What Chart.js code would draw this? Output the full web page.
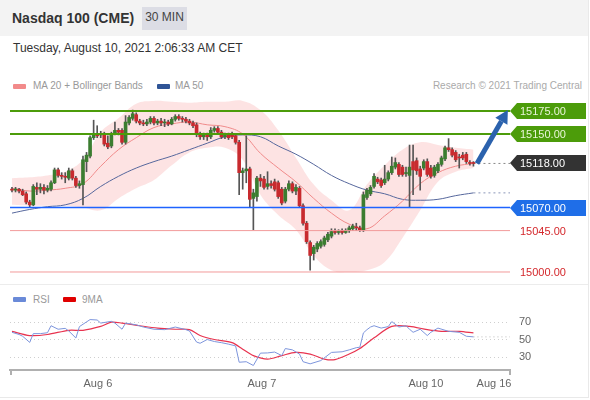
<!DOCTYPE html>
<html>
<head>
<meta charset="utf-8">
<title>Nasdaq 100 (CME)</title>
<script src="https://cdn.jsdelivr.net/npm/chart.js@4.4.1/dist/chart.umd.min.js"></script>
<style>
  html, body { margin: 0; padding: 0; background: #fff; }
  body { width: 590px; height: 400px; position: relative; overflow: hidden; font-family: Arial, "Liberation Sans", sans-serif; }
  .frame { position: absolute; left: 0; top: 0; width: 588px; height: 397px; border-right: 1px solid #e9e9e9; border-bottom: 1px solid #e9e9e9; }
  .head { position: absolute; left: 0; top: 0; width: 588px; height: 36px; background: #f3f3f3; }
  .title { position: absolute; left: 12px; top: 10px; font-size: 14px; line-height: 16px; font-weight: bold; color: #333; }
  .tf { position: absolute; left: 142px; top: 7px; width: 45px; height: 23px; line-height: 21px; background: #dcdde5; color: #444; font-size: 12px; text-align: center; }
  .date { position: absolute; left: 13px; top: 41px; font-size: 12px; line-height: 14px; color: #333; }
  .sep { position: absolute; left: 0; top: 284px; width: 588px; height: 1px; background: #ececec; }
  .leg { position: absolute; font-size: 10px; line-height: 12px; color: #999; white-space: nowrap; }
  .sw { position: absolute; height: 5px; border-radius: 1px; }
  canvas { position: absolute; left: 0; }
</style>
</head>
<body>
<div class="frame"></div>
<div class="head"></div>
<div class="title">Nasdaq 100 (CME)</div>
<div class="tf">30 MIN</div>
<div class="date">Tuesday, August 10, 2021 2:06:33 AM CET</div>

<div class="sw" style="left:13px; top:84px; width:13px; background:#f28a8a;"></div>
<div class="leg" style="left:33px; top:80px;">MA 20 + Bollinger Bands</div>
<div class="sw" style="left:157px; top:84px; width:13px; background:#2f5496;"></div>
<div class="leg" style="left:175px; top:80px;">MA 50</div>
<div class="leg" style="right:8px; top:80px; color:#aaa;">Research © 2021 Trading Central</div>

<div class="sep"></div>

<div class="sw" style="left:13px; top:297px; width:13px; background:#6a8ad8;"></div>
<div class="leg" style="left:33px; top:294px;">RSI</div>
<div class="sw" style="left:63px; top:297px; width:13px; background:#e00000;"></div>
<div class="leg" style="left:82px; top:294px;">9MA</div>

<canvas id="price" width="590" height="185" style="top:95px;"></canvas>
<canvas id="rsi" width="590" height="104" style="top:291px;"></canvas>

<script>
// =============================== data

const opens = [
  15090,15089,15090,15088,15085,15076,15073,15092,15090,15092,
  15089,15090,15097,15111,15105,15104,15102,15110,15102,15094,
  15095,15120,15126,15146,15150,15149,15150,15140,15137,15150,
  15154,15154,15141,15162,15167,15171,15164,15162,15161,15163,
  15167,15162,15164,15162,15163,15161,15166,15169,15167,15166,
  15164,15162,15160,15150,15147,15149,15147,15154,15156,15152,
  15147,15149,15150,15148,15141,15108,15110,15112,15080,15082,
  15102,15101,15093,15096,15098,15097,15090,15077,15090,15096,
  15088,15091,15072,15053,15032,15020,15025,15028,15030,15035,
  15039,15044,15043,15045,15043,15045,15047,15049,15048,15046,
  15081,15085,15093,15101,15100,15097,15101,15108,15114,15117,
  15114,15107,15105,15120,15121,15112,15113,15120,15113,15105,
  15110,15117,15123,15135,15133,15130,15125,15127,15128,15119,
  15119
];
const highs = [
  15092,15092,15091,15090,15087,15078,15095,15097,15096,15095,
  15094,15099,15113,15113,15108,15108,15113,15112,15104,15099,
  15126,15130,15148,15165,15159,15153,15152,15148,15152,15163,
  15156,15156,15170,15170,15176,15173,15166,15165,15166,15169,
  15169,15166,15167,15166,15165,15168,15171,15171,15169,15168,
  15166,15164,15162,15152,15151,15151,15157,15158,15158,15154,
  15151,15151,15152,15150,15143,15113,15148,15114,15090,15104,
  15106,15104,15109,15099,15101,15099,15092,15092,15099,15098,
  15095,15093,15074,15055,15034,15029,15033,15035,15039,15043,
  15047,15047,15046,15047,15047,15050,15052,15053,15050,15087,
  15091,15094,15107,15103,15102,15116,15110,15125,15124,15119,
  15116,15114,15138,15138,15124,15115,15122,15123,15116,15116,
  15119,15126,15137,15145,15135,15132,15128,15130,15130,15121,
  15120
];
const lows = [
  15087,15087,15086,15083,15074,15070,15072,15084,15086,15085,
  15087,15088,15096,15103,15101,15097,15100,15100,15092,15091,
  15073,15109,15124,15144,15146,15146,15137,15134,15135,15149,
  15149,15139,15139,15160,15165,15162,15160,15159,15159,15161,
  15160,15160,15159,15158,15159,15160,15164,15165,15163,15162,
  15160,15157,15147,15144,15144,15143,15145,15152,15150,15145,
  15145,15144,15145,15139,15084,15090,15097,15070,15046,15077,
  15093,15090,15090,15091,15088,15080,15073,15075,15088,15086,
  15084,15070,15051,15031,15002,15013,15022,15026,15028,15033,
  15037,15041,15041,15041,15042,15043,15045,15045,15044,15044,
  15079,15083,15091,15096,15092,15095,15099,15106,15112,15104,
  15104,15104,15070,15084,15106,15089,15111,15104,15102,15103,
  15108,15115,15121,15131,15125,15120,15113,15122,15118,15116,
  15115
];
const closes = [
  15089,15090,15088,15084,15076,15073,15093,15090,15092,15089,
  15091,15097,15111,15105,15104,15103,15110,15102,15094,15096,
  15122,15127,15146,15150,15148,15150,15139,15136,15150,15154,
  15152,15141,15163,15168,15172,15164,15162,15161,15163,15167,
  15162,15164,15162,15163,15161,15166,15169,15167,15166,15164,
  15162,15159,15150,15147,15149,15147,15154,15156,15152,15147,
  15149,15146,15147,15141,15108,15110,15112,15079,15086,15102,
  15099,15092,15096,15094,15090,15082,15075,15090,15096,15088,
  15092,15072,15053,15033,15018,15027,15031,15033,15037,15041,
  15044,15043,15044,15043,15045,15048,15050,15048,15046,15084,
  15089,15092,15104,15098,15094,15101,15108,15115,15119,15106,
  15106,15108,15114,15111,15110,15104,15120,15106,15104,15114,
  15117,15124,15135,15133,15127,15122,15124,15124,15120,15118,
  15118
];

// indicators, read every 5 candles
const bandIdx = [0,5,10,15,20,25,30,35,40,45,50,55,60,65,70,75,80,85,90,95,100,105,110,115,120,125,130];
const bbUpper = [15102,15103,15105,15109,15122,15152,15167,15183,15186,15185,15184,15185,15185,15186,15176,15154,15124,15095,15078,15067,15095,15116,15133,15141,15138,15135,15133];
const bbLower = [15073,15072,15072,15072,15070,15067,15080,15091,15100,15116,15130,15135,15135,15122,15084,15062,15046,15018,15002,15000,15002,15011,15037,15067,15098,15109,15113];
const ma20 = [15091,15088,15089,15091,15096,15115,15133,15146,15157,15161,15163,15160,15158,15150,15129,15113,15098,15080,15064,15052,15047,15061,15077,15096,15108,15115,15118];
const ma50 = [15064,15068,15071,15073,15080,15093,15104,15113,15120,15126,15133,15140,15147,15149,15147,15137,15128,15117,15105,15096,15089,15085,15079,15078,15079,15083,15086];

const levelValues = [15175, 15150, 15070, 15045, 15000];
const tagValues = [15175, 15150, 15118, 15070, 15045, 15000];
const arrowTarget = 15176;

const rsiIdx = [0,2,3,5,6,8,10,11,13,15,16,18,19,22,24,25,28,29,31,32,35,37,40,43,46,49,50,52,53,55,57,59,61,63,64,66,68,70,72,74,76,77,79,81,82,84,87,90,93,95,97,98,99,100,101,102,104,106,107,109,111,112,113,115,117,118,120,123,126,128,130];
const rsiVals = [58.5,56,54,47,57,57,58,66,62,63,60,52,65,73,72.5,69,71,69,62,69,67,64.5,62,61.5,64.5,61.5,60,47.4,46,50.3,48,46.7,45,43,24.4,25,20.7,34.8,35,36,32,40,38.5,33.7,25,22.6,26.3,35.6,36.3,38.5,41,41.5,57.8,61.5,64.5,66,63.3,65,70.7,64.5,66,62,58.5,62,54.8,58.5,63.3,59.6,58.5,54,53.3];
const ma9Idx = [0,5,10,16,20,25,28,31,36,41,46,50,53,57,62,65,68,72,76,80,84,88,91,95,98,102,107,112,117,121,126,130];
const ma9Vals = [59.6,54.8,56,60.8,60.8,65.2,70,69,66,63.3,62,61.5,54.8,50.3,46.7,39.3,31.9,28,32,35.6,33.7,28,27.4,33.7,40,52.2,65.2,65.2,61.5,59.6,59.6,57.8];
const rsiTicks = [30, 50, 70];

const dayTicks = [24.2, 70.4, 116.6, 135.8];
const dayLabels = ['Aug 6', 'Aug 7', 'Aug 10', 'Aug 16'];

// =============================== styles

Chart.defaults.font.family = 'Arial, "Liberation Sans", sans-serif';

const X_MIN = -0.56, X_MAX = 140.3;
const UP = '#3b7d30', DOWN = '#c82a2e', WICK = '#555';
const GREEN = '#4c9c0a';
const levelColors = [GREEN, GREEN, '#1e63ff', '#f29b9b', '#f29b9b'];
const levelWidths = [2, 2, 1.5, 1, 1];
const tagBg = [GREEN, GREEN, '#333333', '#1f6ee8', null, null];
const tagFg = ['#e9f6d8', '#e9f6d8', '#ffffff', '#ffffff', '#d4272b', '#d4272b'];

const pts = (xs, ys) => xs.map((x, i) => ({ x: x, y: ys[i] }));
const idx = closes.map((_, i) => i);
const last = closes.length - 1;

// =============================== price chart

const priceOverlay = {
  id: 'priceOverlay',
  afterDatasetsDraw(chart) {
    const { ctx, scales: { x, y } } = chart;
    const x0 = x.getPixelForValue(last + 1), y0 = y.getPixelForValue(closes[last]);
    const x1 = x.getPixelForValue(139.7), y1 = y.getPixelForValue(arrowTarget);
    const ang = Math.atan2(y1 - y0, x1 - x0);
    const hl = 13, hw = 7;
    const bx = x1 - hl * Math.cos(ang), by = y1 - hl * Math.sin(ang);
    ctx.save();
    ctx.strokeStyle = ctx.fillStyle = '#2b62ad';
    ctx.lineWidth = 5;
    ctx.beginPath(); ctx.moveTo(x0, y0); ctx.lineTo(bx, by); ctx.stroke();
    ctx.beginPath();
    ctx.moveTo(x1, y1);
    ctx.lineTo(bx + hw * Math.sin(ang), by - hw * Math.cos(ang));
    ctx.lineTo(bx - hw * Math.sin(ang), by + hw * Math.cos(ang));
    ctx.closePath();
    ctx.fill();
    ctx.restore();
  },
  afterDraw(chart) {
    const { ctx, chartArea, scales: { y } } = chart;
    const left = chartArea.right;
    ctx.save();
    ctx.font = '11px Arial, "Liberation Sans", sans-serif';
    ctx.textBaseline = 'middle';
    tagValues.forEach((v, k) => {
      const py = Math.round(y.getPixelForValue(v));
      if (tagBg[k]) {
        ctx.fillStyle = tagBg[k];
        ctx.beginPath();
        ctx.moveTo(left, py);
        ctx.lineTo(left + 7, py - 8);
        ctx.lineTo(left + 76, py - 8);
        ctx.lineTo(left + 76, py + 8);
        ctx.lineTo(left + 7, py + 8);
        ctx.closePath();
        ctx.fill();
      }
      ctx.fillStyle = tagFg[k];
      ctx.fillText(v.toFixed(2), left + 10, py + 0.5);
    });
    ctx.restore();
  }
};

new Chart(document.getElementById('price'), {
  type: 'bar',
  data: {
    datasets: [
      ...levelValues.map((v, k) => ({
        type: 'line',
        data: [{ x: X_MIN, y: v }, { x: X_MAX, y: v }],
        borderColor: levelColors[k],
        borderWidth: levelWidths[k],
        pointRadius: 0,
        order: 0
      })),
      {
        type: 'bar',
        data: idx.map(i => ({ x: i, y: [opens[i], closes[i]] })),
        backgroundColor: idx.map(i => closes[i] >= opens[i] ? UP : DOWN),
        barThickness: 3,
        minBarLength: 1,
        grouped: false,
        order: 1
      },
      {
        type: 'bar',
        data: idx.map(i => ({ x: i, y: [lows[i], highs[i]] })),
        backgroundColor: WICK,
        barThickness: 1,
        grouped: false,
        order: 2
      },
      {
        type: 'line', data: pts(bandIdx, ma20),
        borderColor: '#f08a8a', borderWidth: 1, pointRadius: 0, tension: 0.4, order: 3
      },
      {
        type: 'line', data: pts(bandIdx, ma50),
        borderColor: '#56679c', borderWidth: 1, pointRadius: 0, tension: 0.4, order: 3
      },
      {
        // dotted extension of the last price
        type: 'line',
        data: [{ x: last, y: closes[last] }, { x: X_MAX, y: closes[last] }],
        borderColor: '#888', borderWidth: 1, borderDash: [2, 3], pointRadius: 0, order: 4
      },
      {
        type: 'line',
        data: [{ x: last, y: ma50[ma50.length - 1] }, { x: X_MAX, y: ma50[ma50.length - 1] }],
        borderColor: '#8a96b8', borderWidth: 1, borderDash: [2, 3], pointRadius: 0, order: 4
      },
      {
        type: 'line', data: pts(bandIdx, bbUpper),
        borderColor: 'transparent', borderWidth: 0, pointRadius: 0, tension: 0.4,
        fill: '+1', backgroundColor: 'rgba(251,200,200,0.5)', order: 9
      },
      {
        type: 'line', data: pts(bandIdx, bbLower),
        borderColor: 'transparent', borderWidth: 0, pointRadius: 0, tension: 0.4,
        fill: false, order: 9
      }
    ]
  },
  options: {
    responsive: false,
    animation: false,
    layout: { padding: { left: 10, right: 80, top: 0, bottom: 0 } },
    plugins: { legend: { display: false }, tooltip: { enabled: false } },
    scales: {
      x: { type: 'linear', min: X_MIN, max: X_MAX, offset: false, display: false },
      y: { min: 14991.3, max: 15192.4, display: false }
    }
  },
  plugins: [priceOverlay]
});

// =============================== RSI chart

const axisEnds = {
  id: 'axisEnds',
  afterDraw(chart) {
    const { ctx, chartArea } = chart;
    ctx.save();
    ctx.strokeStyle = '#b0b0b0';
    ctx.lineWidth = 2;
    [chartArea.left + 1, chartArea.right].forEach(px => {
      ctx.beginPath();
      ctx.moveTo(px, chartArea.bottom);
      ctx.lineTo(px, chartArea.bottom + 5);
      ctx.stroke();
    });
    ctx.restore();
  }
};

new Chart(document.getElementById('rsi'), {
  type: 'line',
  data: {
    datasets: [
      {
        label: 'RSI', data: pts(rsiIdx, rsiVals),
        borderColor: '#7d95dc', borderWidth: 1, pointRadius: 0, tension: 0
      },
      {
        label: '9MA', data: pts(ma9Idx, ma9Vals),
        borderColor: '#e8334f', borderWidth: 1.2, pointRadius: 0, tension: 0.3
      },
      {
        data: [{ x: last, y: rsiVals[rsiVals.length - 1] }, { x: X_MAX, y: rsiVals[rsiVals.length - 1] }],
        borderColor: '#bbb', borderWidth: 1, borderDash: [1, 3], pointRadius: 0
      }
    ]
  },
  options: {
    responsive: false,
    animation: false,
    layout: { padding: { left: 10, right: 0, top: 1, bottom: 0 } },
    plugins: { legend: { display: false }, tooltip: { enabled: false } },
    scales: {
      x: {
        type: 'linear', min: X_MIN, max: X_MAX,
        afterBuildTicks: s => { s.ticks = dayTicks.map(v => ({ value: v })); },
        afterFit: s => { s.height = 25; },
        ticks: {
          callback: (v, i) => dayLabels[i],
          autoSkip: false, maxRotation: 0, padding: 7,
          color: '#666', font: { size: 11 }
        },
        grid: { display: false, drawTicks: false },
        border: { display: true, color: '#b0b0b0', width: 2 }
      },
      y: {
        position: 'right', min: 15.56, max: 87.78,
        afterBuildTicks: s => { s.ticks = rsiTicks.map(v => ({ value: v })); },
        afterFit: s => { s.width = 80; },
        ticks: { padding: 9, color: '#666', font: { size: 11 } },
        grid: { color: '#cfcfcf', drawTicks: false },
        border: { display: false, dash: [1, 3] }
      }
    }
  },
  plugins: [axisEnds]
});
</script>
</body>
</html>
